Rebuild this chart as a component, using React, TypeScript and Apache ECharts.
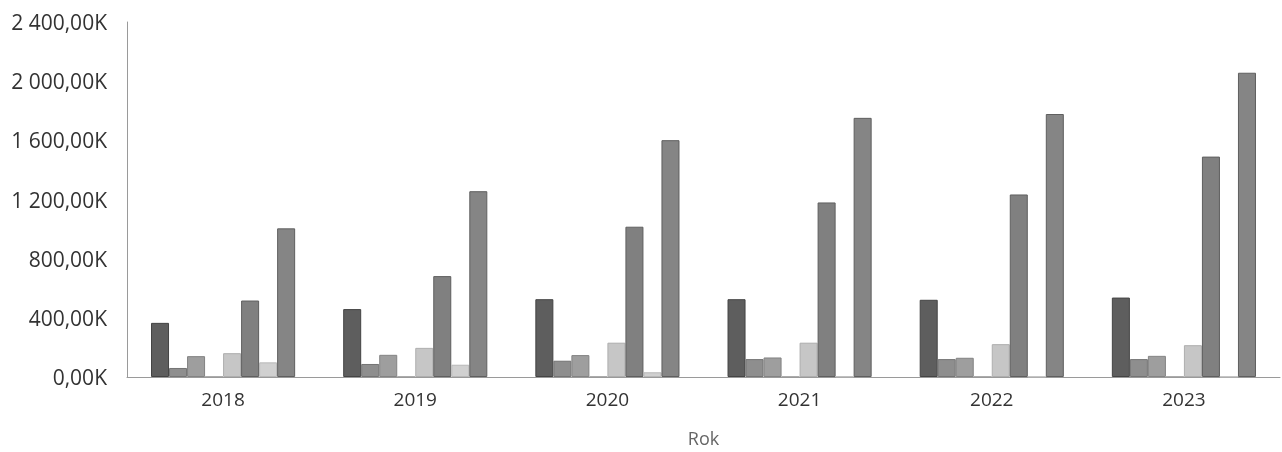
import React, { useEffect, useRef } from "react";
import * as echarts from "echarts";

const categories = ["2018", "2019", "2020", "2021", "2022", "2023"];
const s1 = [366, 459, 526, 526, 522, 537];
const s2 = [61, 88, 110, 121, 121, 121];
const s3 = [141, 150, 148, 132, 130, 143];
const s4 = [1, 1, 1, 1, 1, 1];
const s5 = [161, 197, 232, 232, 222, 215];
const s6 = [517, 682, 1016, 1180, 1234, 1490];
const s7 = [99, 83, 32, 2, 1, 1];
const s8 = [1005, 1256, 1601, 1752, 1778, 2057];
const yTicks = [0, 400, 800, 1200, 1600, 2000, 2400];

const seriesData = [s1, s2, s3, s4, s5, s6, s7, s8];
const colors = ["#5e5e5e", "#8e8e8e", "#9e9e9e", "#b5b5b5", "#c6c6c6", "#808080", "#d0d0d0", "#858585"];
const borders = ["#444444", "#747474", "#838383", "#999999", "#aeaeae", "#5f5f5f", "#b8b8b8", "#5f5f5f"];

function fmt(v: number): string {
  const s = v.toFixed(2).replace(".", ",");
  const [i, d] = s.split(",");
  const withSpace = i.replace(/\B(?=(\d{3})+(?!\d))/g, " ");
  return withSpace + "," + d + "K";
}

export default function App() {
  const ref = useRef<HTMLDivElement>(null);
  useEffect(() => {
    document.body.style.margin = "0";
    document.body.style.overflow = "hidden";
    const chart = echarts.init(ref.current!, undefined, { renderer: "svg" });
    chart.setOption({
      animation: false,
      textStyle: { fontFamily: "Open Sans" },
      grid: { left: 127, right: 2, top: 22, bottom: 66 },
      xAxis: {
        type: "category",
        data: categories,
        name: "Rok",
        nameLocation: "middle",
        nameGap: 52,
        nameTextStyle: { fontSize: 18, color: "#666", fontFamily: "Open Sans" },
        axisLine: { lineStyle: { color: "#9a9a9a", width: 1 } },
        axisTick: { show: false },
        axisLabel: { fontSize: 19, color: "#333", margin: 12, fontFamily: "Open Sans" },
      },
      yAxis: {
        type: "value",
        min: 0,
        max: 2400,
        interval: 400,
        axisLine: { show: true, lineStyle: { color: "#9a9a9a", width: 1 } },
        axisTick: { show: false },
        splitLine: { show: false },
        axisLabel: {
          fontSize: 21,
          color: "#333",
          margin: 20,
          fontFamily: "Open Sans",
          formatter: (v: number) => (yTicks.includes(v) ? fmt(v) : ""),
        },
      },
      series: seriesData.map((d, i) => ({
        type: "bar",
        data: d,
        barGap: "0%",
        barCategoryGap: "25%",
        itemStyle: { color: colors[i], borderColor: borders[i], borderWidth: 1 },
      })),
    });
    return () => chart.dispose();
  }, []);
  return (
    <div
      ref={ref}
      style={{ position: "fixed", left: 0, top: 0, width: 1282, height: 452 }}
    />
  );
}
